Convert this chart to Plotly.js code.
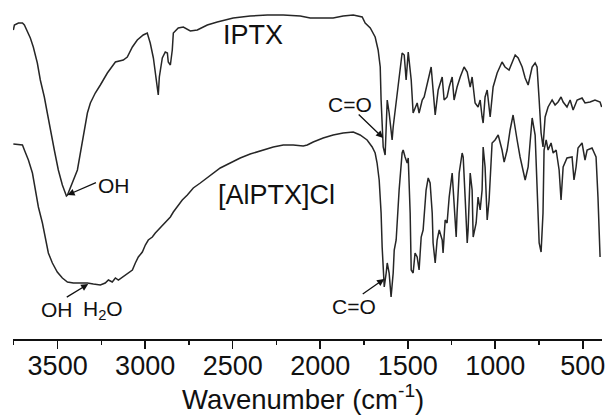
<!DOCTYPE html>
<html>
<head>
<meta charset="utf-8">
<script src="https://cdn.plot.ly/plotly-3.0.1.min.js"></script>
<style>html,body{margin:0;padding:0;background:#fff;}#chart{width:608px;height:416px;}</style>
</head>
<body>
<div id="chart"></div>
<script>
// IPTX spectrum: wavenumber (cm-1) and transmittance (arbitrary units)
const wnIPTX = [3753,3747,3724,3701,3690,3673,3656,3639,3616,3599,3576,3559,3542,3519,3496,3473,3450,3444,3387,3359,3330,3313,3285,3256,3216,3170,3125,3102,3073,3045,3011,2988,2971,2953,2931,2925,2919,2902,2885,2873,2868,2856,2845,2839,2811,2782,2742,2702,2645,2588,2497,2400,2302,2211,2114,2057,2000,1926,1869,1811,1760,1743,1714,1686,1669,1657,1652,1646,1640,1629,1617,1606,1589,1583,1560,1543,1532,1520,1509,1497,1480,1469,1446,1435,1417,1406,1389,1366,1355,1343,1326,1303,1292,1275,1263,1246,1235,1218,1200,1178,1160,1143,1132,1115,1098,1086,1075,1069,1058,1046,1029,1012,989,961,944,921,886,869,846,829,812,789,772,761,749,738,727,715,698,675,658,641,624,612,590,572,555,532,504,487,458,430,401,392];
const tIPTX  = [309,314,316,316,314,307,301,292,276,259,242,226,209,189,169,154,143,144,169,199,226,236,246,254,266,277,279,282,292,299,304,306,296,281,252,244,262,281,287,286,277,274,289,306,311,312,308,309,314,317,321,323,324,324,323,321,321,321,323,324,322,316,311,302,289,272,239,206,192,184,239,226,199,212,246,272,286,284,259,287,259,226,236,226,239,242,256,272,249,224,249,262,239,242,252,262,239,252,262,272,267,252,262,236,232,239,222,216,242,249,222,252,266,277,272,269,284,281,272,261,254,272,276,272,239,206,192,222,232,239,234,237,242,237,232,239,229,239,241,236,237,239,237,232];

// [AlPTX]Cl spectrum
const wnAl = [3753,3701,3690,3667,3644,3627,3610,3587,3570,3553,3530,3502,3473,3444,3410,3370,3330,3296,3256,3228,3210,3188,3170,3153,3131,3113,3096,3073,3056,3039,3016,2999,2982,2959,2942,2925,2913,2896,2873,2856,2839,2816,2788,2759,2725,2685,2645,2611,2571,2514,2457,2400,2325,2268,2211,2154,2097,2074,2040,1983,1926,1869,1811,1772,1732,1703,1686,1675,1663,1652,1646,1640,1634,1623,1617,1606,1595,1583,1577,1566,1560,1549,1532,1526,1515,1503,1497,1486,1480,1469,1458,1446,1435,1423,1412,1395,1383,1372,1360,1355,1343,1332,1320,1303,1298,1286,1275,1263,1246,1235,1223,1218,1206,1189,1183,1172,1160,1155,1143,1132,1126,1109,1098,1086,1075,1069,1058,1046,1035,1018,1001,983,961,949,932,915,898,875,858,829,812,801,789,772,761,749,738,727,721,709,698,681,669,652,635,624,612,590,561,550,538,527,504,487,475,447,424,413,401];
const tAl  = [195,194,189,179,166,149,132,116,99,86,76,67,61,57,56,56,56,55,54,56,59,57,61,59,62,64,66,69,76,82,87,94,99,102,106,109,112,114,119,122,127,132,139,144,151,156,161,166,171,176,181,185,189,192,194,194,193,194,197,201,204,206,207,204,199,192,186,176,159,126,92,69,52,66,76,66,42,66,89,99,122,149,186,189,182,176,181,126,69,66,86,82,69,102,109,149,161,156,126,96,76,99,109,99,86,119,116,142,166,139,102,126,166,186,182,142,96,109,166,149,102,116,142,129,149,192,172,119,139,196,199,204,189,177,189,209,224,199,182,159,172,196,221,204,142,96,87,126,189,199,189,196,186,189,169,139,172,181,182,159,172,191,196,179,189,191,182,142,82];

const xTickVals = [3500,3000,2500,2000,1500,1000,500];
const xTickText = ['3500','3000','2500','2000','1500','1000','500'];
const xTitle = 'Wavenumber (cm<sup>-1</sup>)';

const FONT = 'Arial, "Liberation Sans", Helvetica, sans-serif';
const LINE = '#262626';

const traces = [
  {x: wnIPTX, y: tIPTX, mode: 'lines', name: 'IPTX', line: {color: LINE, width: 1.5}},
  {x: wnAl, y: tAl, mode: 'lines', name: '[AlPTX]Cl', line: {color: LINE, width: 1.5}}
];

function label(text, x, y, size) {
  return {text: text, x: x, y: y, xref: 'x', yref: 'y', showarrow: false,
          font: {family: FONT, size: size, color: '#111'}, xanchor: 'center', yanchor: 'middle'};
}
function arrow(x, y, ax, ay) {
  return {text: '', x: x, y: y, xref: 'x', yref: 'y', ax: ax, ay: ay, axref: 'pixel', ayref: 'pixel',
          showarrow: true, arrowhead: 2, arrowsize: 1.1, arrowwidth: 1.3, arrowcolor: '#111'};
}

const layout = {
  width: 608, height: 416,
  margin: {l: 13, r: 6, t: 0, b: 77},
  paper_bgcolor: '#fff', plot_bgcolor: '#fff',
  showlegend: false,
  font: {family: FONT, color: '#111'},
  xaxis: {
    range: [3755, 390], showgrid: false, zeroline: false,
    showline: true, linecolor: '#111', linewidth: 1.6,
    ticks: 'outside', ticklen: 8, tickwidth: 1.6, tickcolor: '#111',
    tickvals: xTickVals, ticktext: xTickText,
    tickfont: {family: FONT, size: 27, color: '#111'},
    ticklabelstandoff: -6,
    minor: {dtick: 250, tick0: 0, ticks: 'outside', ticklen: 4, tickwidth: 1.2, tickcolor: '#111'}
  },
  yaxis: {range: [0, 339], visible: false, showgrid: false, zeroline: false},
  annotations: [
    {text: xTitle, xref: 'paper', yref: 'paper', x: 0.492, y: -0.172, showarrow: false,
     xanchor: 'center', yanchor: 'middle', font: {family: FONT, size: 27.5, color: '#111'}},
    label('IPTX', 2382, 304, 27),
    label('[AlPTX]Cl', 2248, 144, 27),
    label('OH', 3176, 154, 21),
    arrow(3444, 144, 30, -13),
    label('OH', 3500 - (57 - 57.3) * 5.71, 29.5, 21),
    label('H<sub>2</sub>O', 3500 - (102.5 - 57.3) * 5.71, 29, 21),
    arrow(3325, 55, -23, 14),
    label('C=O', 1829, 234.5, 21),
    arrow(1640, 201, -26, -25),
    label('C=O', 1809, 32.5, 21),
    arrow(1634, 60, -23, 16)
  ]
};

Plotly.newPlot('chart', traces, layout, {displayModeBar: false, staticPlot: true});
</script>
</body>
</html>
